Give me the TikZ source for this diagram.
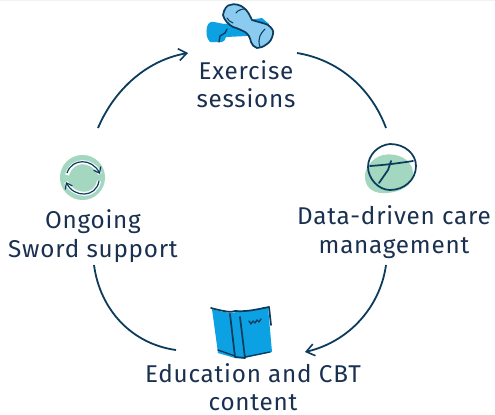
\documentclass[tikz,border=0pt]{standalone}
\usepackage{fontspec}
\setmainfont[LetterSpace=3.2]{Fira Sans}
\usetikzlibrary{arrows.meta}
\definecolor{navy}{HTML}{0B3C5D}
\definecolor{txt}{HTML}{1A3050}
\definecolor{mint}{HTML}{A3D7BF}
\definecolor{bluem}{HTML}{0BA1E2}
\definecolor{bluel}{HTML}{8CCBF0}
\tikzset{
  lab/.style={text=txt,font=\fontsize{18.2}{21.4}\selectfont,align=center,inner sep=0pt},
  conn/.style={draw=navy,line width=1.35pt,-{Straight Barb[length=6pt,width=9pt,line width=1.2pt]}},
  connp/.style={draw=navy,line width=1.35pt},
  ink/.style={draw=navy,line width=1.3pt,line join=round,line cap=round}
}
\begin{document}
\begin{tikzpicture}[x=0.75pt,y=-0.75pt]
\useasboundingbox (0,0) rectangle (495,414);
\fill[white] (0,0) rectangle (495,414);
\fill[black!5] (0,0) rectangle (495,1);
% labels
\node[lab] (ex) at (246,84) {Exercise\\sessions};
\node[lab] (data) at (394,232) {Data-driven care\\management};
\node[lab] (edu) at (253,387) {Education and CBT\\content};
\node[lab] (ong) at (93,236) {Ongoing\\Sword support};
% connector ends
\coordinate (a1) at (98,128);
\coordinate (a2) at (188,53);
\coordinate (b1) at (297,53);
\coordinate (b2) at (386,128);
\coordinate (c1) at (386,265);
\coordinate (c2) at (305,352);
\coordinate (d1) at (176,350);
\coordinate (d2) at (94,265);
\draw[conn] (a1) .. controls (115,88) and (148,60) .. (a2);
\draw[connp] (b1) .. controls (340,60) and (372,90) .. (b2);
\draw[conn] (c1) .. controls (380,308) and (348,342) .. (c2);
\draw[connp] (d1) .. controls (132,344) and (100,310) .. (d2);
% dumbbell
\fill[bluem] (207,27) .. controls (208,23) and (211,21) .. (214,22) -- (224,24) -- (262,18) -- (269,24) -- (268,35) -- (226,37) .. controls (225,40) and (224,42) .. (222,42) -- (210,42) .. controls (206,38) and (206,32) .. (207,27) -- cycle;
\draw[ink,line width=1pt] (219,42) -- (220,36) -- (225,33) -- (227,29);
\draw[ink,fill=bluel] (223,15) .. controls (224,9) and (227,5) .. (230,5) .. controls (234,3) and (241,5) .. (244,8) .. controls (248,11) and (250,16) .. (252,20) .. controls (258,22) and (264,23) .. (268,25) .. controls (272,28) and (274,31) .. (273,34) .. controls (272,39) and (270,42) .. (267,44) .. controls (263,47) and (260,48) .. (257,48) .. controls (254,47) and (252,45) .. (251,42) .. controls (250,37) and (248,34) .. (245,32) .. controls (241,30) and (237,28) .. (233,27) .. controls (229,25) and (224,20) .. (223,15) -- cycle;
\draw[ink,line width=0.8pt] (265,29) .. controls (261,33) and (257,38) .. (260,47);
\draw[ink,line width=0.8pt] (236,13) .. controls (238,10) and (242,9) .. (245,9);
\draw[ink,line width=0.8pt] (227,18) .. controls (229,21) and (231,22) .. (233,23);
% chart
\fill[mint] (383,155) .. controls (398,152) and (412,160) .. (413,172) .. controls (414,186) and (400,192) .. (387,193) .. controls (376,194) and (366,190) .. (365,178) .. controls (364,168) and (372,158) .. (383,155) -- cycle;
\draw[ink] (390,144) .. controls (405,144) and (416,154) .. (416,166) .. controls (416,180) and (404,190) .. (390,190) .. controls (378,190) and (368,178) .. (368,167) .. controls (368,155) and (378,145) .. (390,144) -- cycle;
\draw[ink] (370,166) .. controls (385,165) and (400,163) .. (413,161);
\draw[ink] (391,161) -- (388,170) -- (379,183);
% book
\fill[bluem] (212,309) .. controls (222,312) and (232,314) .. (236,312) .. controls (248,312) and (258,308) .. (268,307) -- (272,352) -- (245,358) -- (235,358) -- (218,353) -- cycle;
\draw[ink] (211,308) .. controls (222,311) and (232,313) .. (235,311) .. controls (248,312) and (258,309) .. (269,307);
\draw[ink] (269,307) -- (271,325);
\draw[ink] (230,314) -- (235,357) -- (245,358) -- (240,317);
\draw[ink,line width=1pt] (218,350) -- (235,356);
\draw[ink,line width=1pt] (245,357) -- (270,352);
\draw[ink,line width=1pt] (249,321) -- (251,324) -- (253,321) -- (255,323) -- (257,320) -- (259,322) -- (261,319);
% cycle icon
\fill[mint] (82.5,177.5) circle (16.9pt);
\draw[white,line width=3pt] (67,175) .. controls (72,158) and (92,158) .. (100,174);
\draw[white,line width=3pt] (99,181) .. controls (96,198) and (74,198) .. (66,182);
\draw[navy,line width=0.9pt,-{Straight Barb[length=4pt,width=6pt,line width=0.9pt]}] (67,173) .. controls (72,158) and (92,158) .. (100,174);
\draw[navy,line width=0.9pt,-{Straight Barb[length=4pt,width=6pt,line width=0.9pt]}] (99,181) .. controls (96,198) and (74,198) .. (66,182);
\end{tikzpicture}
\end{document}
